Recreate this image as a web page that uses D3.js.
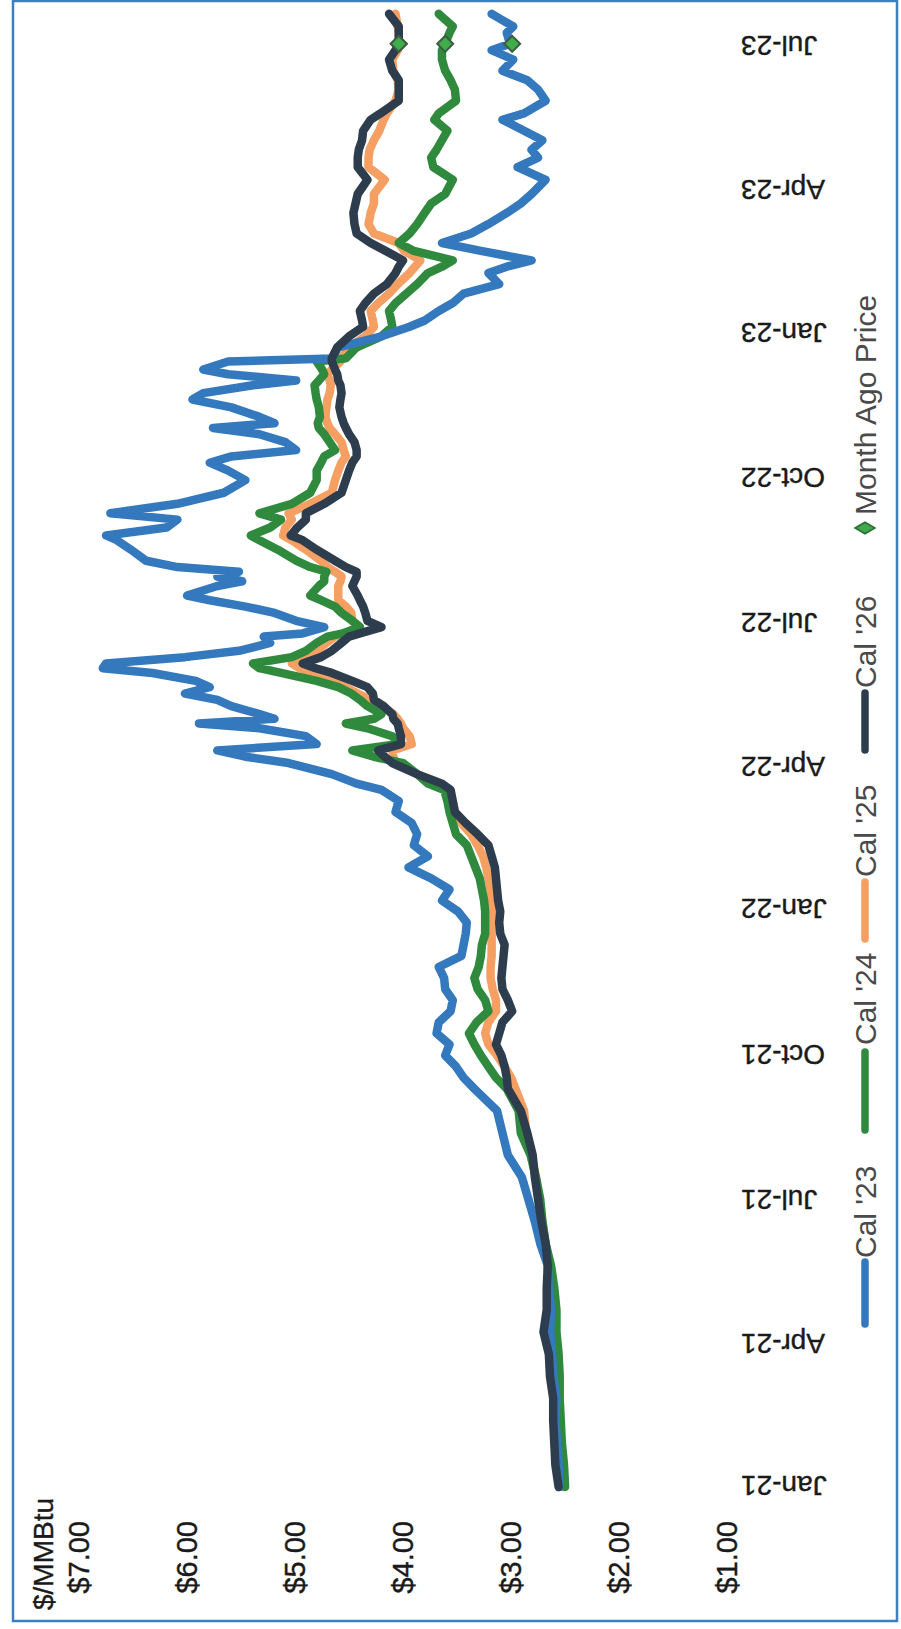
<!DOCTYPE html>
<html>
<head>
<meta charset="utf-8">
<script src="https://cdn.jsdelivr.net/npm/d3@7"></script>
<style>
html,body{margin:0;padding:0;background:#fff;}
svg{display:block;}
</style>
</head>
<body>
<svg id="chart" width="901" height="1629"></svg>
<script>
// ---------------- DATA ----------------
const dates = [
"2021-01-01","2021-01-15","2021-01-29","2021-02-12","2021-02-26","2021-03-12","2021-03-26","2021-04-09","2021-04-23","2021-05-07",
"2021-05-21","2021-06-04","2021-06-18","2021-07-02","2021-07-16","2021-07-30","2021-08-13","2021-08-27","2021-09-10","2021-09-17",
"2021-09-24","2021-10-01","2021-10-08","2021-10-15","2021-10-22","2021-10-29","2021-11-05","2021-11-12","2021-11-19","2021-11-26",
"2021-12-03","2021-12-10","2021-12-17","2021-12-24","2021-12-31","2022-01-07","2022-01-14","2022-01-21","2022-01-28","2022-02-04",
"2022-02-11","2022-02-18","2022-02-25","2022-03-04","2022-03-11","2022-03-18","2022-03-22","2022-03-28","2022-04-04","2022-04-08",
"2022-04-12","2022-04-16","2022-04-21","2022-04-26","2022-04-29","2022-05-02","2022-05-05","2022-05-10","2022-05-14","2022-05-18",
"2022-05-22","2022-05-26","2022-05-31","2022-06-03","2022-06-06","2022-06-10","2022-06-14","2022-06-19","2022-06-23","2022-06-25",
"2022-06-29","2022-07-03","2022-07-08","2022-07-12","2022-07-16","2022-07-19","2022-07-25","2022-07-28","2022-07-31","2022-08-03",
"2022-08-06","2022-08-10","2022-08-17","2022-08-23","2022-08-26","2022-08-31","2022-09-05","2022-09-09","2022-09-15","2022-09-22",
"2022-09-30","2022-10-06","2022-10-11","2022-10-15","2022-10-19","2022-10-24","2022-10-29","2022-11-02","2022-11-05","2022-11-09",
"2022-11-15","2022-11-20","2022-11-24","2022-11-29","2022-12-02","2022-12-06","2022-12-09","2022-12-14","2022-12-16","2022-12-23",
"2022-12-30","2023-01-05","2023-01-09","2023-01-15","2023-01-20","2023-01-26","2023-02-01","2023-02-08","2023-02-12","2023-02-16",
"2023-02-22","2023-02-27","2023-03-05","2023-03-11","2023-03-18","2023-03-24","2023-03-30","2023-04-08","2023-04-16","2023-04-22",
"2023-04-27","2023-05-03","2023-05-09","2023-05-16","2023-05-20","2023-05-28","2023-06-04","2023-06-10","2023-06-16","2023-06-23",
"2023-06-29","2023-07-03","2023-07-10","2023-07-14","2023-07-22"
];

const cal23 = [
2.54,2.55,2.56,2.58,2.57,2.60,2.61,2.63,2.62,2.64,
2.65,2.72,2.77,2.83,2.89,3.02,3.07,3.12,3.33,3.43,
3.50,3.60,3.56,3.68,3.66,3.55,3.53,3.60,3.61,3.66,
3.45,3.43,3.41,3.40,3.48,3.63,3.56,3.73,3.94,3.76,
3.89,3.86,3.91,4.06,4.03,4.19,4.42,4.65,5.05,5.45,
5.71,4.79,4.89,5.32,5.88,5.18,5.32,5.58,5.71,6.01,
5.78,5.91,6.31,6.77,6.74,6.01,5.51,5.22,5.28,4.92,
4.72,4.98,5.18,5.45,5.78,5.99,5.71,5.48,5.71,5.51,
6.08,6.37,6.51,6.64,6.74,6.18,6.08,6.70,6.08,5.65,
5.45,5.61,5.78,5.58,4.98,5.08,5.32,5.75,5.18,5.32,
5.58,5.94,5.84,5.38,4.98,5.61,5.84,5.61,4.65,4.59,
4.19,3.93,3.79,3.66,3.53,3.43,3.10,3.20,3.03,2.80,
3.27,3.63,3.36,3.20,3.03,2.90,2.80,2.67,2.93,2.74,
2.80,2.70,2.87,3.07,2.87,2.67,2.74,2.84,3.07,2.97,
3.17,3.00,3.03,2.97,3.17
];

const cal24 = [
2.49,2.50,2.52,2.53,2.54,2.54,2.55,2.57,2.57,2.59,
2.62,2.67,2.70,2.72,2.76,2.81,2.90,2.92,3.03,3.13,
3.20,3.27,3.33,3.38,3.31,3.20,3.23,3.30,3.33,3.29,
3.27,3.26,3.23,3.23,3.23,3.24,3.26,3.28,3.32,3.36,
3.40,3.50,3.53,3.56,3.58,3.61,3.76,3.86,3.99,4.26,
4.46,4.03,4.09,4.32,4.52,4.26,4.19,4.32,4.39,4.47,
4.59,4.79,5.12,5.32,5.38,5.02,4.89,4.79,4.69,4.55,
4.39,4.46,4.56,4.62,4.75,4.85,4.77,4.72,4.72,4.70,
4.85,4.98,5.15,5.32,5.40,5.22,5.12,5.32,5.02,4.85,
4.79,4.79,4.75,4.72,4.62,4.67,4.72,4.77,4.78,4.76,
4.77,4.79,4.80,4.81,4.77,4.72,4.74,4.79,4.52,4.42,
4.19,4.09,4.10,4.12,4.06,3.96,3.86,3.76,3.63,3.53,
3.89,4.03,3.93,3.86,3.79,3.73,3.60,3.53,3.71,3.73,
3.68,3.63,3.58,3.70,3.66,3.50,3.51,3.55,3.60,3.63,
3.63,3.60,3.56,3.53,3.66
];

const cal25 = [
2.51,2.53,2.54,2.56,2.57,2.59,2.60,2.61,2.60,2.62,
2.64,2.67,2.70,2.73,2.76,2.80,2.85,2.87,2.95,2.99,
3.05,3.12,3.20,3.23,3.20,3.13,3.13,3.16,3.18,3.18,
3.17,3.17,3.17,3.16,3.17,3.17,3.18,3.20,3.22,3.25,
3.30,3.36,3.45,3.51,3.53,3.58,3.70,3.86,4.06,4.08,
4.09,3.91,3.93,3.99,4.01,4.04,4.08,4.19,4.29,4.41,
4.52,4.65,4.85,4.95,5.02,4.89,4.79,4.70,4.62,4.52,
4.39,4.46,4.47,4.52,4.59,4.59,4.59,4.57,4.56,4.62,
4.69,4.75,4.89,5.02,5.10,5.08,5.02,5.05,4.85,4.65,
4.62,4.59,4.56,4.52,4.54,4.56,4.62,4.67,4.69,4.71,
4.70,4.69,4.67,4.66,4.67,4.69,4.65,4.57,4.56,4.49,
4.34,4.26,4.27,4.29,4.22,4.12,4.04,3.93,3.88,3.83,
3.98,4.03,4.26,4.31,4.29,4.26,4.26,4.16,4.31,4.31,
4.30,4.26,4.21,4.17,4.14,4.06,4.03,4.04,4.08,4.09,
4.04,4.03,4.03,4.04,4.06
];

const cal26 = [
2.55,2.58,2.59,2.60,2.60,2.63,2.64,2.69,2.66,2.66,
2.65,2.67,2.71,2.74,2.77,2.79,2.84,2.90,3.02,3.03,
3.05,3.08,3.13,3.10,3.07,2.98,3.02,3.07,3.08,3.07,
3.06,3.05,3.09,3.10,3.09,3.11,3.12,3.13,3.14,3.17,
3.20,3.30,3.41,3.51,3.53,3.55,3.63,3.86,4.09,4.16,
4.22,4.01,4.01,4.03,4.04,4.08,4.09,4.17,4.26,4.27,
4.32,4.46,4.65,4.80,4.92,4.75,4.65,4.56,4.49,4.39,
4.19,4.32,4.34,4.36,4.39,4.41,4.46,4.44,4.42,4.42,
4.52,4.62,4.79,4.92,5.03,4.97,4.89,4.89,4.72,4.56,
4.52,4.49,4.46,4.42,4.42,4.44,4.49,4.52,4.54,4.56,
4.58,4.57,4.56,4.57,4.59,4.60,4.62,4.65,4.65,4.60,
4.49,4.36,4.37,4.39,4.34,4.26,4.14,4.06,4.03,3.99,
4.15,4.29,4.42,4.44,4.45,4.43,4.41,4.32,4.41,4.41,
4.40,4.37,4.36,4.29,4.20,4.03,4.03,4.03,4.09,4.12,
4.06,4.03,4.03,4.03,4.12
];

const seriesNames = ["Cal '23", "Cal '24", "Cal '25", "Cal '26"];
const monthAgoLabel = "Month Ago Price";
const monthAgoDate = "2023-07-03";
const monthAgoValues = [2.98, 3.60, 4.03, 4.03];
const priceTicks = [1, 2, 3, 4, 5, 6, 7];
const dateTicks = ["2021-01-01","2021-04-01","2021-07-01","2021-10-01","2022-01-01","2022-04-01",
                   "2022-07-01","2022-10-01","2023-01-01","2023-04-01","2023-07-01"];
const unitLabel = "$/MMBtu";

// ---------------- DRAW ----------------
const parse = d3.timeParse("%Y-%m-%d");
const colors = ["#3479bd", "#2f8a3e", "#f5a062", "#2d3d4d"];
const values = [cal23, cal24, cal25, cal26];

const svg = d3.select("#chart");

// Outer frame
svg.append("rect")
  .attr("x", 13).attr("y", 1).attr("width", 884).attr("height", 1620)
  .attr("fill", "none").attr("stroke", "#3d7fc1").attr("stroke-width", 2.5);

// The chart is drawn landscape and rotated -90deg (like the scanned page)
const g = svg.append("g").attr("transform", "translate(0,1629) rotate(-90)");

const x = d3.scaleTime()
  .domain([parse("2021-01-01"), parse("2023-07-01")])
  .range([142, 1582]);
const y = d3.scaleLinear().domain([1, 7]).range([726, 78]);

const FONT = "'Liberation Sans', Arial, Helvetica, sans-serif";

// Y axis (price)
const yAxis = g.append("g").attr("transform", "translate(108,0)")
  .call(d3.axisLeft(y).tickValues(priceTicks).tickFormat(d => "$" + d.toFixed(2)).tickSize(0).tickPadding(0));
yAxis.select(".domain").remove();
yAxis.selectAll("text")
  .attr("font-family", FONT).attr("font-size", 29).attr("fill", "#1a1a1a")
  .attr("stroke", "#1a1a1a").attr("stroke-width", 0.4)
  .attr("dy", "0.36em");

g.append("text").text(unitLabel)
  .attr("x", 19).attr("y", 43).attr("dy", "0.36em")
  .attr("font-family", FONT).attr("font-size", 28).attr("fill", "#1a1a1a")
  .attr("stroke", "#1a1a1a").attr("stroke-width", 0.4);

// X axis (dates)
const xAxis = g.append("g").attr("transform", "translate(0,741)")
  .call(d3.axisBottom(x).tickValues(dateTicks.map(parse)).tickFormat(d3.timeFormat("%b-%y")).tickSize(0).tickPadding(0));
xAxis.select(".domain").remove();
xAxis.selectAll("text")
  .attr("x", 0).attr("y", 0).attr("dy", "0.36em")
  .attr("transform", "rotate(-90)")
  .style("text-anchor", "end")
  .attr("font-family", FONT).attr("font-size", 28).attr("fill", "#1a1a1a")
  .attr("stroke", "#1a1a1a").attr("stroke-width", 0.4);

// Lines
const line = d3.line()
  .x(d => x(d.date))
  .y(d => y(d.value));

const drawOrder = [2, 1, 0, 3];
drawOrder.forEach(i => {
  const data = dates.map((d, k) => ({ date: parse(d), value: values[i][k] }));
  g.append("path")
    .datum(data)
    .attr("d", line)
    .attr("fill", "none")
    .attr("stroke", colors[i])
    .attr("stroke-width", 8.5)
    .attr("stroke-linejoin", "round")
    .attr("stroke-linecap", "round");
});

// Month ago markers
const diamond = d3.symbol().type(d3.symbolSquare).size(128);
g.selectAll(".mago").data(monthAgoValues).enter().append("path")
  .attr("d", diamond)
  .attr("transform", d => `translate(${x(parse(monthAgoDate))},${y(d)}) rotate(45)`)
  .attr("fill", "#3fae49").attr("stroke", "#3d5a44").attr("stroke-width", 2);

// Legend
const legendV = 865;
const legendItems = [
  { u1: 305, u2: 367, t: 371 },
  { u1: 499, u2: 577, t: 584 },
  { u1: 690, u2: 747, t: 752 },
  { u1: 879, u2: 936, t: 941 }
];
legendItems.forEach((it, i) => {
  g.append("line")
    .attr("x1", it.u1).attr("x2", it.u2).attr("y1", legendV).attr("y2", legendV)
    .attr("stroke", colors[i]).attr("stroke-width", 7.5).attr("stroke-linecap", "round");
  g.append("text").text(seriesNames[i])
    .attr("x", it.t).attr("y", legendV).attr("dy", "0.36em")
    .attr("font-family", FONT).attr("font-size", 30).attr("fill", "#4a4a4a");
});
g.append("path")
  .attr("d", d3.symbol().type(d3.symbolDiamond).size(115))
  .attr("transform", `translate(1101,${legendV})`)
  .attr("fill", "#3ea84a").attr("stroke", "#2e6b3a").attr("stroke-width", 1.5);
g.append("text").text(monthAgoLabel)
  .attr("x", 1114).attr("y", legendV).attr("dy", "0.36em")
  .attr("font-family", FONT).attr("font-size", 30).attr("fill", "#4a4a4a");
</script>
</body>
</html>
